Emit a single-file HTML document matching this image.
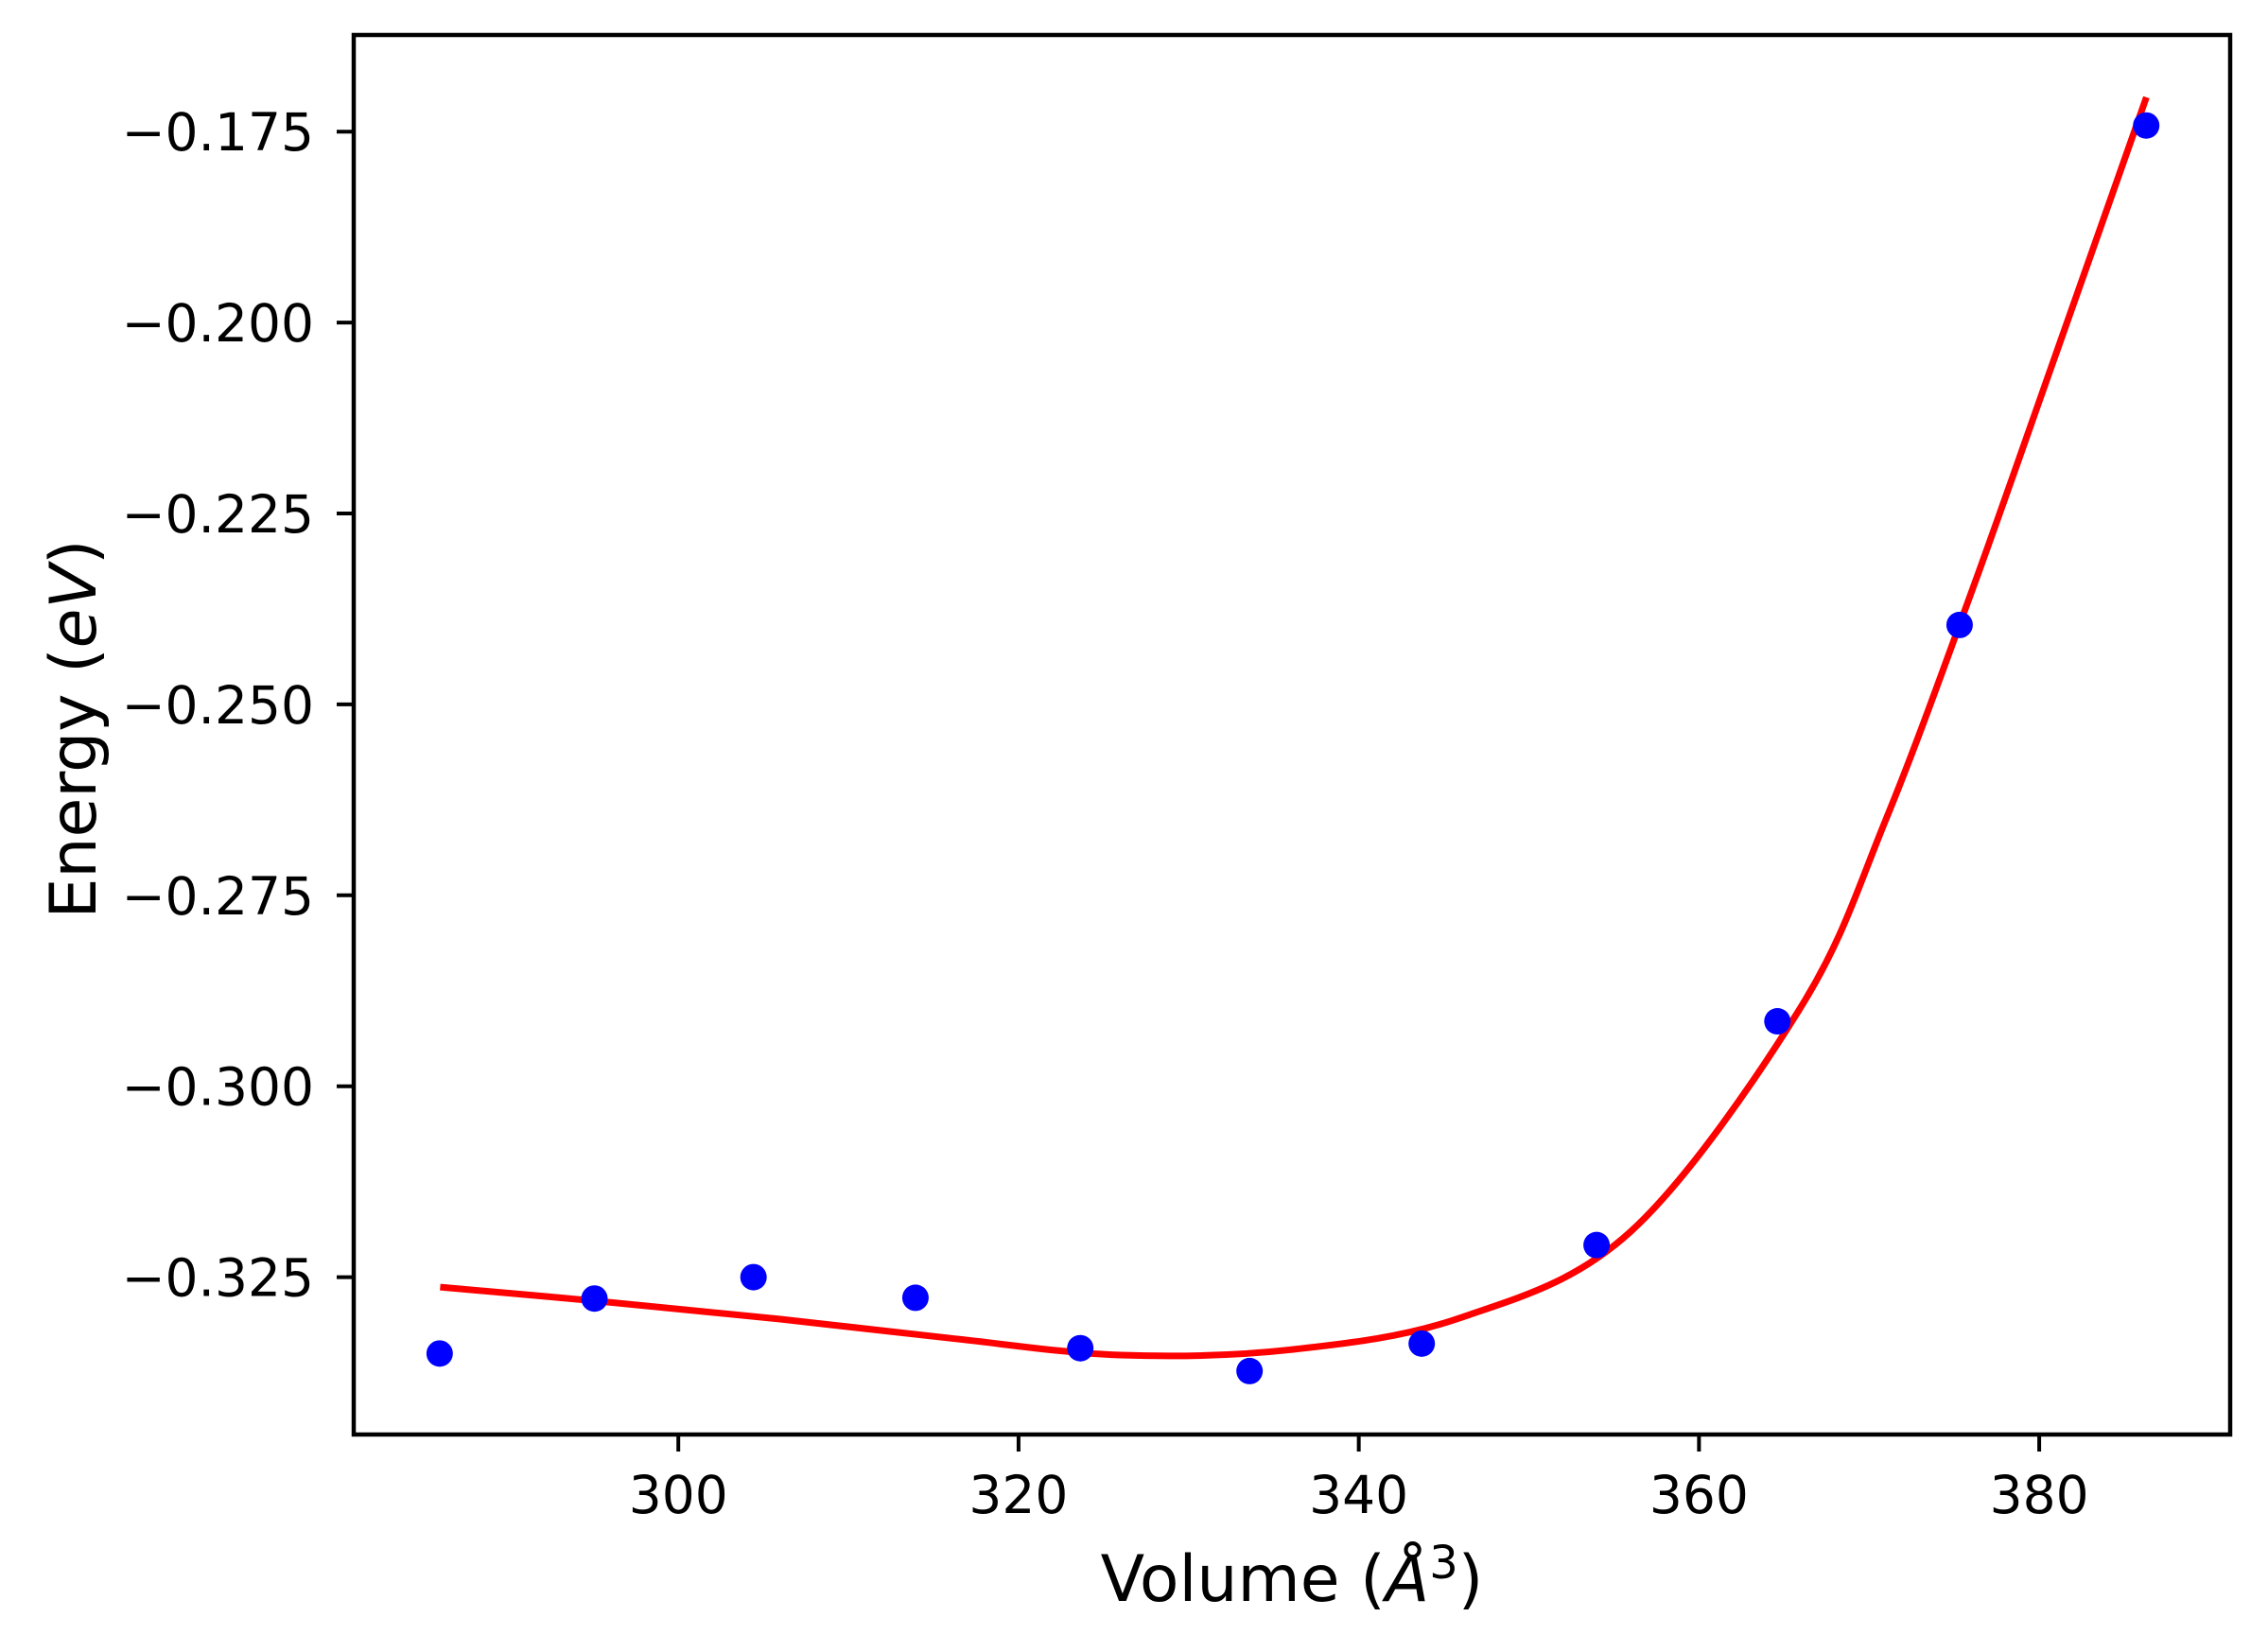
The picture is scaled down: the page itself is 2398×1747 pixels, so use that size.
<!DOCTYPE html>
<html><head><meta charset="utf-8"><style>
html,body{margin:0;padding:0;background:#fff;}
svg{display:block;font-family:"DejaVu Sans","Liberation Sans",sans-serif;}
</style></head><body>
<svg id="chart" width="2398" height="1747" viewBox="0 0 2398 1747" xmlns="http://www.w3.org/2000/svg">
<rect width="2398" height="1747" fill="#fff"/>
<g id="plot"></g>
<g id="xticks"></g>
<g id="yticks"></g>
<rect x="374" y="37" width="1984" height="1480" fill="none" stroke="#000" stroke-width="4.5"/>
<text x="1366" y="1693" font-size="68" text-anchor="middle">Volume (<tspan font-style="italic">Å</tspan><tspan font-size="48" dy="-24">3</tspan><tspan dy="24">)</tspan></text>
<text transform="translate(101,771) rotate(-90)" font-size="68" text-anchor="middle">Energy (<tspan font-style="italic">eV</tspan>)</text>
</svg>
<script>
const volumes = [285.97, 295.07, 304.42, 313.94, 323.63, 333.58, 343.70, 353.98, 364.61, 375.32, 386.29];
const energies = [-0.3350, -0.3278, -0.3250, -0.3277, -0.3343, -0.3373, -0.3337, -0.3208, -0.2915, -0.2396, -0.1742];
const fitVolumes = [286, 296, 306, 316, 326, 336, 346, 356, 366, 371, 376, 381, 386.3];
const fitEnergies = [-0.3263, -0.3283, -0.3305, -0.3330, -0.3352, -0.3345, -0.3303, -0.3190, -0.2896, -0.2650, -0.2354, -0.2040, -0.1705];
const xTickValues = [300, 320, 340, 360, 380];
const xTickLabels = ["300", "320", "340", "360", "380"];
const yTickValues = [-0.175, -0.200, -0.225, -0.250, -0.275, -0.300, -0.325];
const yTickLabels = ["\u22120.175", "\u22120.200", "\u22120.225", "\u22120.250", "\u22120.275", "\u22120.300", "\u22120.325"];

const NS = "http://www.w3.org/2000/svg";
function xs(v){ return 717.2 + (v - 300) * (2156.1 - 717.2) / 80; }
function ys(v){ return 139.2 + (-0.175 - v) / 0.025 * 201.9; }
function mk(tag, attrs, parent){ const e = document.createElementNS(NS, tag); for (const k in attrs) e.setAttribute(k, attrs[k]); parent.appendChild(e); return e; }

const plot = document.getElementById('plot');
// fit curve (Catmull-Rom spline)
const pts = fitVolumes.map((v, i) => [xs(v), ys(fitEnergies[i])]);
let d = "M" + pts[0][0] + "," + pts[0][1];
for (let i = 0; i < pts.length - 1; i++) {
  const p0 = pts[Math.max(0, i - 1)], p1 = pts[i], p2 = pts[i + 1], p3 = pts[Math.min(pts.length - 1, i + 2)];
  const c1 = [p1[0] + (p2[0] - p0[0]) / 6, p1[1] + (p2[1] - p0[1]) / 6];
  const c2 = [p2[0] - (p3[0] - p1[0]) / 6, p2[1] - (p3[1] - p1[1]) / 6];
  d += " C" + c1[0] + "," + c1[1] + " " + c2[0] + "," + c2[1] + " " + p2[0] + "," + p2[1];
}
const curve = mk('path', {d: d, fill: 'none', stroke: '#ff0000', 'stroke-width': 7}, plot);



volumes.forEach((v, i) => {
  const c = mk('circle', {cx: xs(v), cy: ys(energies[i]), r: 14, fill: '#0000ff'}, plot);
  
  
});

const xg = document.getElementById('xticks');
xTickValues.forEach((v, i) => {
  const x = xs(v);
  const t = mk('line', {x1: x, x2: x, y1: 1517, y2: 1535, stroke: '#000', 'stroke-width': 4}, xg);
  
  
  const l = mk('text', {x: x, y: 1600, 'font-size': 55, 'text-anchor': 'middle'}, xg);
  l.textContent = xTickLabels[i];
  
  
});

const yg = document.getElementById('yticks');
yTickValues.forEach((v, i) => {
  const y = ys(v);
  const t = mk('line', {x1: 356, x2: 374, y1: y, y2: y, stroke: '#000', 'stroke-width': 4}, yg);
  
  
  const l = mk('text', {x: 332, y: y + 20, 'font-size': 55, 'text-anchor': 'end'}, yg);
  l.textContent = yTickLabels[i];
  
  
});
</script>
</body></html>
